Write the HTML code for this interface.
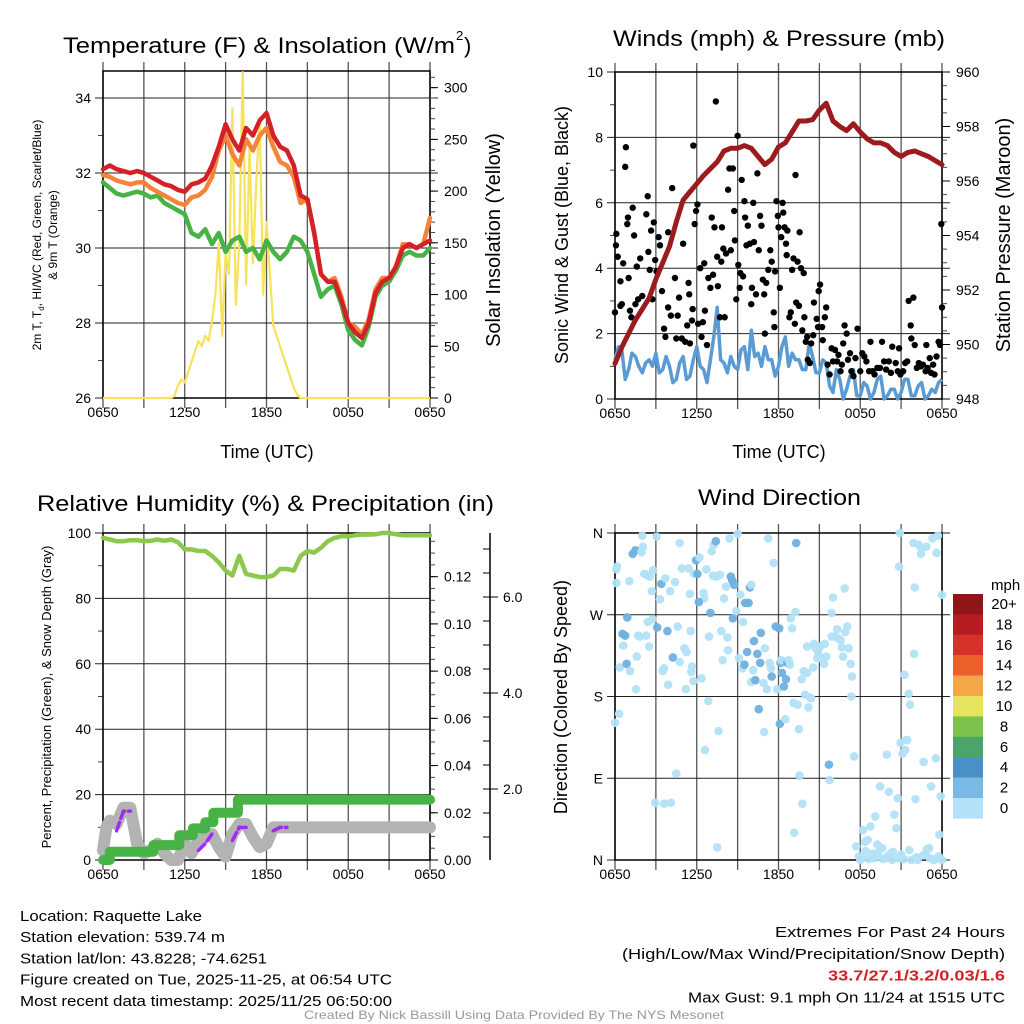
<!DOCTYPE html>
<html><head><meta charset="utf-8"><style>
html,body{margin:0;padding:0;background:#fff;}
svg{display:block;font-family:"Liberation Sans",Arial,sans-serif;}
</style></head><body>
<svg id="fig" width="1024" height="1024" viewBox="0 0 1024 1024"></svg>
<script>
// ---------------- DATA ----------------
const timeLabels = ["0650","1250","1850","0050","0650"];
// half-hourly temperatures (F), 0650 -> 0650
const tempRed = [32.1,32.2,32.1,32.05,32.0,32.05,32.0,31.9,31.8,31.7,31.65,31.55,31.5,31.7,31.75,31.85,32.2,32.7,33.3,32.9,32.6,33.2,33.0,33.4,33.6,33.0,32.7,32.6,32.2,31.4,31.3,30.4,29.3,29.1,29.1,28.6,28.0,27.75,27.6,28.0,28.8,29.1,29.2,29.5,30.0,30.1,30.0,30.1,30.2];
const tempOrange = [31.95,31.9,31.8,31.75,31.7,31.75,31.75,31.6,31.5,31.4,31.3,31.2,31.15,31.35,31.4,31.55,31.9,32.6,33.0,32.5,32.2,32.9,32.6,33.0,33.2,32.7,32.3,32.2,31.9,31.2,31.3,30.4,29.3,29.1,29.2,28.7,28.0,27.9,27.7,28.1,28.9,29.2,29.2,29.5,30.1,30.1,30.0,30.1,30.8];
const tempGreen = [31.75,31.6,31.45,31.4,31.45,31.5,31.45,31.35,31.4,31.2,31.1,31.0,30.9,30.4,30.3,30.5,30.1,30.4,29.9,30.2,30.3,29.9,30.0,29.7,30.2,29.9,29.7,29.9,30.3,30.2,29.9,29.3,28.7,28.9,29.0,28.5,27.8,27.55,27.4,27.9,28.7,29.0,29.1,29.4,29.8,29.9,29.8,29.8,30.0];
// quarter-hourly solar from hour 5 to hour 15 (W/m2)
const solarStartHour = 5;
const solarVals = [0,2,12,18,15,25,35,45,55,50,60,55,75,100,150,60,140,120,280,90,150,315,110,240,130,210,270,100,170,120,70,60,50,40,30,20,10,3,0,0,0];
// pressure half-hourly (mb)
const pressure = [949.3,949.9,950.4,950.9,951.3,951.7,952.4,953.0,953.6,954.5,955.3,955.6,955.9,956.2,956.45,956.7,957.1,957.2,957.2,957.3,957.2,956.9,956.6,956.8,957.25,957.4,957.8,958.2,958.2,958.25,958.6,958.85,958.2,958.0,957.85,958.1,957.8,957.55,957.4,957.4,957.3,957.05,956.9,957.05,957.1,957.0,956.9,956.75,956.6];
// sonic wind quarter-hourly (mph)
const sonicWind = [1.2,1.6,1.5,0.6,0.9,1.4,1.3,1.0,0.8,1.1,1.2,1.0,1.4,0.8,0.9,1.3,1.0,0.5,0.6,1.1,1.3,0.6,0.7,1.2,1.6,1.0,0.9,0.5,1.2,1.9,2.8,1.2,1.1,0.8,1.3,1.0,0.9,1.5,1.6,0.9,2.1,1.3,1.4,1.0,1.6,1.2,1.2,0.7,1.0,1.6,1.9,1.0,1.4,1.2,1.2,0.9,0.9,1.7,1.3,0.8,0.8,1.2,1.1,0.4,0.2,0.9,0.6,0.0,0.3,0.7,0.9,0.1,0.1,0.5,0.4,0.0,0.2,0.6,0.7,0.0,0.1,0.3,0.3,0.0,0.2,0.6,0.6,0.1,0.1,0.4,0.5,0.0,0.1,0.3,0.2,0.5,0.6];
// gusts: hours since 0650, mph
const gustHours = [0,0.07,0.1,0.2,0.4,0.4,0.5,0.6,0.75,0.8,0.9,0.95,1.0,1.1,1.2,1.3,1.4,1.5,1.6,1.7,1.85,2.0,2.3,2.4,2.45,2.55,2.65,2.75,2.85,2.95,3.05,3.2,3.3,3.45,3.6,3.7,3.9,3.9,4.1,4.2,4.4,4.5,4.6,4.7,4.9,5.0,5.15,5.3,5.4,5.45,5.5,5.65,5.7,5.75,5.85,5.95,6.05,6.1,6.25,6.35,6.45,6.55,6.6,6.75,6.85,7.0,7.1,7.2,7.3,7.4,7.5,7.55,7.7,7.8,7.85,7.95,8.05,8.15,8.3,8.4,8.5,8.65,8.75,8.8,8.9,9.0,9.05,9.15,9.2,9.3,9.4,9.5,9.55,9.65,9.75,9.9,10.0,10.05,10.15,10.2,10.35,10.45,10.55,10.65,10.75,10.85,10.95,11.0,11.1,11.25,11.4,11.5,11.65,11.7,11.75,11.85,11.95,12.0,12.1,12.2,12.3,12.35,12.45,12.55,12.6,12.65,12.8,12.9,13.0,13.1,13.2,13.25,13.3,13.4,13.5,13.55,13.65,13.75,13.85,13.9,14.0,14.1,14.15,14.3,14.4,14.55,14.6,14.8,14.9,14.95,15.05,15.2,15.25,15.4,15.5,15.6,15.75,15.9,16.0,16.15,16.3,16.4,16.55,16.65,16.75,16.85,17.0,17.1,17.25,17.35,17.5,17.65,17.8,18.0,18.15,18.3,18.45,18.65,18.75,18.9,19.05,19.25,19.45,19.6,19.75,19.9,20.1,20.25,20.35,20.6,20.75,20.85,20.95,21.15,21.3,21.45,21.55,21.7,21.75,21.9,22.0,22.15,22.3,22.45,22.6,22.8,22.85,22.95,23.1,23.2,23.35,23.45,23.6,23.75,23.85,23.95,24.0];
const gustVals = [2.65,4.7,5.05,4.35,3.6,2.85,2.9,4.15,7.1,7.7,5.35,5.55,3.7,2.7,2.5,5.85,5.0,2.9,4.05,3.05,4.3,3.15,5.65,6.2,4.5,3.95,5.15,3.05,5.4,4.25,3.9,4.95,4.7,3.3,2.15,1.9,5.1,2.8,2.55,6.45,3.7,1.85,2.55,3.1,1.85,4.75,1.75,2.25,3.55,3.2,1.7,2.4,2.75,7.75,5.35,5.75,5.95,2.3,4.0,1.9,2.35,4.15,2.7,1.65,3.7,3.4,5.55,3.8,5.25,9.1,4.35,3.45,2.5,4.2,5.25,4.6,2.5,4.45,6.4,7.05,4.55,7.05,5.75,4.85,3.05,8.05,4.1,3.4,3.85,6.7,3.75,6.05,5.55,4.7,5.3,4.75,2.9,3.4,6.0,4.8,3.2,6.9,4.55,5.6,5.3,3.65,3.2,2.0,3.55,3.95,4.55,4.2,2.65,2.2,3.9,6.05,5.6,5.25,3.4,4.95,6.0,5.7,5.25,4.75,4.4,5.15,2.5,2.65,3.95,4.3,2.3,6.85,2.95,4.2,2.85,5.1,4.0,2.1,3.85,2.5,1.75,1.9,1.2,1.1,1.7,1.95,2.95,2.45,2.2,3.3,3.5,2.2,1.8,2.5,2.8,1.05,0.75,1.55,1.15,1.5,1.15,1.35,0.85,1.05,1.7,2.25,2.0,1.2,1.4,0.85,0.7,1.25,2.15,0.85,1.4,1.3,1.15,0.85,1.75,0.85,0.75,0.95,0.95,1.75,1.15,0.9,1.15,0.8,1.6,1.1,0.85,1.55,0.75,0.85,1.1,1.15,3.0,2.25,1.85,3.1,1.65,0.95,1.1,1.0,1.05,0.85,1.65,0.95,1.25,0.8,1.05,0.75,1.3,1.75,1.65,5.35,2.8];
// relative humidity half-hourly (%)
const rh = [98.5,98,97.5,97.5,97.8,97.8,97.5,97.6,98,97.6,98,97.2,95,95,94.5,94.5,93,91,88.5,87,93,87.5,87,86.5,86.5,87,89,89,88.5,93,94.5,94,95.5,97.5,98.5,99,99,99.3,99.5,99.5,99.6,100,100,99.6,99.3,99.3,99.3,99.3,99.3];
// accumulated precipitation steps (hour, inches)
const precipHours = [0,0.5,3.7,5.6,6.6,7.5,8.1,9.9];
const precipVals = [0,0.0035,0.0063,0.0105,0.0134,0.016,0.02,0.0256];
// snow depth (in)
const snowHours = [0,0.25,0.5,1,1.5,2,2.5,3,3.5,4,4.5,5,5.5,6,6.5,7,8,8.5,9,9.5,10,10.5,11,11.5,12,12.5,13,24];
const snowVals = [0.72,1.2,1.34,1.27,1.61,1.61,0.86,0.66,0.72,0.86,0.66,0.52,0.52,0.86,0.66,0.93,1.06,0.79,0.59,1.06,1.27,1.27,1.0,0.79,0.86,1.2,1.2,1.2];
const snowRawHours = [1.0,1.5,2.0,null,7.0,7.5,8.0,null,9.5,10.0,10.5,null,12.5,13.0,13.5];
const snowRawVals = [1.13,1.54,1.54,null,0.72,0.86,1.06,null,0.93,1.2,1.2,null,1.13,1.2,1.2];
// wind direction (hour, degrees, speed mph)
const dirHours = [0.1,0.15,0.1,0,0.3,0.35,0.6,0.75,0.55,0.9,0.85,1.05,1.1,1.3,1.5,1.6,1.55,1.7,1.85,1.95,2.05,2.0,2.15,2.3,2.55,2.3,2.5,2.4,2.7,2.8,2.75,3.05,2.95,3.1,3.3,3.4,3.5,3.6,3.7,3.9,3.85,4.05,4.1,3.6,4.25,4.4,4.5,4.6,4.75,4.75,4.9,5.1,5.2,5.25,5.4,5.5,5.6,5.75,5.55,5.65,5.8,5.95,6.05,6.2,6.35,6.5,6.55,6.7,6.15,6.85,6.6,6.9,7.0,7.1,7.25,7.4,7.2,7.45,7.7,7.8,7.9,8.0,8.15,7.6,7.5,8.25,8.3,8.4,8.5,8.6,8.65,8.75,8.9,9.0,9.1,9.2,9.35,9.4,9.5,9.55,9.7,9.8,9.9,10.0,10.0,10.15,10.2,10.3,10.45,10.55,10.65,10.7,10.9,10.95,11.0,11.15,11.25,11.35,11.45,11.5,11.65,11.8,11.9,12.05,12.1,12.15,12.2,12.25,12.4,12.5,12.55,12.65,12.75,12.85,12.9,13.0,13.1,13.15,13.25,13.3,13.4,13.5,13.55,13.7,13.75,13.85,13.95,14.1,14.2,14.3,14.1,14.4,14.55,14.6,14.7,14.85,14.9,15.05,15.15,15.35,15.4,15.5,15.7,15.75,15.9,15.9,16.0,16.15,16.3,16.4,16.55,16.65,16.75,16.85,16.9,17.05,17.15,17.3,17.4,17.35,17.55,17.7,18.0,18.2,18.35,18.55,18.75,18.95,19.1,19.25,19.35,19.45,19.6,19.85,19.95,20.1,20.2,20.35,20.5,20.65,20.75,20.85,20.9,20.95,21.1,21.25,21.3,21.35,21.45,21.55,21.65,21.75,21.9,21.95,22.0,22.05,22.2,22.3,22.45,22.5,22.65,22.8,22.85,23.05,23.2,23.3,23.4,23.55,23.6,23.7,23.75,23.9,24.0,24.0,18.1,18.4,18.6,18.9,19.0,19.3,19.7,20.0,20.4,20.8,21.0,21.2,21.6,22.1,22.6,22.9,23.1,23.5,23.8,17.9,19.55];
const dirVals = [320,323,305,151,161,212,236,247,249,267,216,307,208,337,341,224,188,247,246,339,345,357,315,314,312,247,235,262,296,319,265,356,63,256,287,304,208,211,310,193,252,296,63,62,223,306,95,257,349,218,321,233,188,229,321,293,207,197,252,213,315,330,315,333,200,294,288,320,284,175,121,246,272,340,347,351,313,312,314,252,220,288,301,142,14,245,231,354,312,308,266,303,274,359,222,292,211,262,215,283,229,283,300,303,196,209,241,198,227,166,217,250,195,141,233,188,354,217,211,202,327,257,188,255,150,217,220,206,191,155,199,217,220,215,266,255,173,30,273,349,171,144,93,199,62,208,182,206,168,179,235,178,212,238,234,222,229,235,222,216,238,224,105,88,246,272,289,246,254,244,242,234,224,299,251,257,233,216,202,180,114,15,0,33,20,22,37,7,48,17,4,81,13,2,116,75,7,0,50,35,68,323,360,129,117,204,121,132,132,183,171,0,349,227,300,67,0,347,337,343,108,7,345,13,81,354,0,112,338,357,4,70,292,0,3,10,1,5,2,8,1,4,9,2,6,1,11,3,5,12,2,1,28,4];
const dirSpeeds = [0,0,0,0,0,0,0,2,2,2,2,0,0,2,2,0,0,0,0,0,0,0,0,0,0,0,0,0,0,0,0,0,0,2,0,2,0,0,0,0,2,0,0,0,2,0,0,0,0,0,0,0,0,0,0,0,0,0,0,0,0,2,2,0,0,0,0,0,2,0,0,0,2,0,0,2,0,0,0,0,0,0,0,0,0,0,0,0,2,2,2,2,0,0,0,0,0,0,2,2,2,2,2,0,0,0,2,2,2,2,2,2,0,0,0,0,0,0,0,2,0,2,0,2,2,2,0,2,2,0,2,2,0,0,0,0,0,0,0,2,0,0,0,0,0,0,0,0,0,0,0,0,0,0,0,0,0,0,0,0,0,0,2,0,0,0,0,0,0,0,0,0,0,0,0,0,0,0,0,0,0,0,0,0,0,0,0,0,0,0,0,0,0,0,0,0,0,0,0,0,0,0,0,0,0,0,0,0,0,0,0,0,0,0,0,0,0,0,0,0,0,0,0,0,0,0,0,0,0,0,0,0,0,0,0,0,0,0,0,0,0,0,0,0,0,0,0,0,0,0,0,0,0,0,0,0,0,0,0,0,0,0,0,0,0,0,0,0,0,0,0];
const legendLabels = ["20+","18","16","14","12","10","8","6","4","2","0"];
const legendColors = ["#8e1518","#b81c23","#d8302a","#ec5f2b","#f5a748","#e6e35c","#7dc24c","#4ba46a","#4a8fc6","#7ab9e3","#b3e1f7"];

// ---------------- HELPERS ----------------
const NS="http://www.w3.org/2000/svg";
const svg=document.getElementById('fig');
function mk(tag,attrs,parent){const e=document.createElementNS(NS,tag);for(const k in attrs)e.setAttribute(k,attrs[k]);(parent||svg).appendChild(e);return e;}
function txt(s,x,y,size,attrs,parent){const e=mk('text',Object.assign({x:x,y:y,'font-size':size,fill:'#000'},attrs||{}),parent);e.textContent=s;return e;}
function scaleX(P,h){return P.x0+h/24*(P.x1-P.x0);}
function scaleY(P,v,lo,hi){return P.y1-(v-lo)/(hi-lo)*(P.y1-P.y0);}
function series(vals){return vals.map((v,i)=>[i*24/(vals.length-1),v]);}
function pathD(pts){let d='',pen=false;pts.forEach(p=>{if(p[0]===null||p[1]===null){pen=false;return;}d+=(pen?'L':'M')+p[0].toFixed(1)+' '+p[1].toFixed(1);pen=true;});return d;}

function panelFrame(P,name,leftTicks,leftLo,leftHi,leftMinor,leftLabels){
  const g=mk('g',{});
  
  
  for(let h=0;h<=24;h+=3){const x=scaleX(P,h);mk('line',{x1:x,x2:x,y1:P.y0-9,y2:P.y1+10,stroke:'#555','stroke-width':1.3},g);}
  leftTicks.forEach((v,i)=>{const y=scaleY(P,v,leftLo,leftHi);
    mk('line',{x1:P.x0-8,x2:P.x1+(P.gridExt||0),y1:y,y2:y,stroke:'#222','stroke-width':1},g);
    txt(leftLabels[i],P.x0-12,y+5,14,{'text-anchor':'end'},g);});
  leftMinor.forEach(v=>{const y=scaleY(P,v,leftLo,leftHi);mk('line',{x1:P.x0-5,x2:P.x0,y1:y,y2:y,stroke:'#444','stroke-width':1},g);});
  mk('rect',{x:P.x0,y:P.y0,width:P.x1-P.x0,height:P.y1-P.y0,fill:'none',stroke:'#000','stroke-width':1.5},g);
  timeLabels.forEach((t,i)=>{txt(t,scaleX(P,i*6),P.y1+19,14,{'text-anchor':'middle'},g);});
  return g;
}
function rightAxis(P,lo,hi,majors,labels,minorStep,name){
  const g=mk('g',{});
  
  
  for(let v=lo;v<=hi+1e-9;v+=minorStep){const y=scaleY(P,v,P.rlo,P.rhi);if(y<P.y0-0.5)continue;mk('line',{x1:P.x1,x2:P.x1+5,y1:y,y2:y,stroke:'#444','stroke-width':1},g);}
  majors.forEach((v,i)=>{const y=scaleY(P,v,P.rlo,P.rhi);mk('line',{x1:P.x1,x2:P.x1+8,y1:y,y2:y,stroke:'#000','stroke-width':1},g);txt(labels[i],P.x1+14,y+5,14,{},g);});
}

// ---------------- PANEL 1 : Temperature ----------------
const P1={x0:103,x1:430,y0:71,y1:398,rlo:0,rhi:316.1,gridExt:8};
const t1=txt('Temperature (F) & Insolation (W/m',63,53,22,{textLength:392,lengthAdjust:'spacingAndGlyphs'});

txt('2',456,40,13,{});
txt(')',464,53,22,{});
panelFrame(P1,'temperature',[26,28,30,32,34],26,34.72,[27,29,31,33],["26","28","30","32","34"]);
rightAxis(P1,0,316,[0,50,100,150,200,250,300],["0","50","100","150","200","250","300"],10,'solar-axis');
(function(){
  const solarPts=[[scaleX(P1,0),scaleY(P1,0,0,316.1)]];
  solarVals.forEach((v,i)=>solarPts.push([scaleX(P1,solarStartHour+i*0.25),scaleY(P1,v,0,316.1)]));
  solarPts.push([scaleX(P1,24),scaleY(P1,0,0,316.1)]);
  const s=mk('path',{d:pathD(solarPts),fill:'none',stroke:'#f7e35a','stroke-width':2.2,'stroke-linejoin':'round'});
  
  [[tempGreen,'#47b346','dewpoint-line'],[tempOrange,'#f5843a','9m-temperature-line'],[tempRed,'#d42027','2m-temperature-line']].forEach(([arr,c,n])=>{
    const pts=series(arr).map(p=>[scaleX(P1,p[0]),scaleY(P1,p[1],26,34.72)]);
    const e=mk('path',{d:pathD(pts),fill:'none',stroke:c,'stroke-width':4.5,'stroke-linejoin':'round','stroke-linecap':'round'});
    
  });
})();
const yl1=mk('text',{transform:'rotate(-90 41 235)',x:41,y:235,'font-size':12,'text-anchor':'middle'});
yl1.innerHTML='2m T, T<tspan font-size="8" dy="3">d</tspan><tspan dy="-3">, HI/WC (Red, Green, Scarlet/Blue)</tspan>';

const yl1b=txt('& 9m T (Orange)',57,235,12,{transform:'rotate(-90 57 235)','text-anchor':'middle'});

const yr1=txt('Solar Insolation (Yellow)',500,240,20,{transform:'rotate(-90 500 240)','text-anchor':'middle'});

const xl1=txt('Time (UTC)',267,458,18,{'text-anchor':'middle'});


// ---------------- PANEL 2 : Winds ----------------
const P2={x0:615,x1:942,y0:72,y1:399,rlo:948,rhi:960,gridExt:8};
const t2=txt('Winds (mph) & Pressure (mb)',613,46,22,{textLength:332,lengthAdjust:'spacingAndGlyphs'});

panelFrame(P2,'winds',[0,2,4,6,8,10],0,10,[1,3,5,7,9],["0","2","4","6","8","10"]);
rightAxis(P2,948,960,[948,950,952,954,956,958,960],["948","950","952","954","956","958","960"],0.5,'pressure-axis');
(function(){
  const wpts=series(sonicWind).map(p=>[scaleX(P2,p[0]),scaleY(P2,p[1],0,10)]);
  const w=mk('path',{d:pathD(wpts),fill:'none',stroke:'#5a9bd4','stroke-width':3.5,'stroke-linejoin':'round'});
  
  const n=Math.min(gustHours.length,gustVals.length);
  for(let i=0;i<n;i++){const c=mk('circle',{cx:scaleX(P2,gustHours[i]),cy:scaleY(P2,gustVals[i],0,10),r:3.2,fill:'#000'});
    
    }
  const ppts=series(pressure).map(p=>[scaleX(P2,p[0]),scaleY(P2,p[1],948,960)]);
  const pr=mk('path',{d:pathD(ppts),fill:'none',stroke:'#9b1b1e','stroke-width':5,'stroke-linejoin':'round','stroke-linecap':'round'});
  
})();
const yl2=txt('Sonic Wind & Gust (Blue, Black)',568,235,18,{transform:'rotate(-90 568 235)','text-anchor':'middle'});

const yr2=txt('Station Pressure (Maroon)',1010,235,20,{transform:'rotate(-90 1010 235)','text-anchor':'middle'});

const xl2=txt('Time (UTC)',779,458,18,{'text-anchor':'middle'});


// ---------------- PANEL 3 : RH & precip ----------------
const P3={x0:103,x1:430,y0:533,y1:860,rlo:0,rhi:0.1385,gridExt:0};
const t3=txt('Relative Humidity (%) & Precipitation (in)',37,511,22,{textLength:457,lengthAdjust:'spacingAndGlyphs'});

panelFrame(P3,'humidity',[0,20,40,60,80,100],0,100,[10,30,50,70,90],["0","20","40","60","80","100"]);
rightAxis(P3,0,0.1385,[0,0.02,0.04,0.06,0.08,0.1,0.12],["0.00","0.02","0.04","0.06","0.08","0.10","0.12"],0.005,'precipitation-axis');
(function(){
  const g=mk('g',{});
  
  
  mk('line',{x1:490,x2:490,y1:533,y2:860,stroke:'#000','stroke-width':1.5},g);
  const sy=v=>885-48*v;
  for(let v=0.5;v<=7;v+=0.5){const y=sy(v);if(y<533||y>860)continue;mk('line',{x1:483,x2:490,y1:y,y2:y,stroke:'#000','stroke-width':1},g);}
  [["2.0",2],["4.0",4],["6.0",6]].forEach(([l,v])=>{const y=sy(v);mk('line',{x1:490,x2:498,y1:y,y2:y,stroke:'#000','stroke-width':1},g);txt(l,503,y+5,14,{},g);});
  const sp=snowHours.map((h,i)=>[scaleX(P3,h),sy(snowVals[i])]);
  const s=mk('path',{d:pathD(sp),fill:'none',stroke:'#b3b3b3','stroke-width':12,'stroke-linejoin':'round','stroke-linecap':'round'});
  
  const rp=snowRawHours.map((h,i)=>h===null?[null,null]:[scaleX(P3,h),sy(snowRawVals[i])]);
  const r=mk('path',{d:pathD(rp),fill:'none',stroke:'#a02cf0','stroke-width':3.5,'stroke-dasharray':'9 4','stroke-linecap':'round'});
  
  const pp=[];
  precipHours.forEach((h,i)=>{const y=scaleY(P3,precipVals[i],0,0.1385);const hEnd=i<precipHours.length-1?precipHours[i+1]:24;pp.push([scaleX(P3,h),y]);pp.push([scaleX(P3,hEnd),y]);});
  const p=mk('path',{d:pathD(pp),fill:'none',stroke:'#47b346','stroke-width':10,'stroke-linejoin':'round','stroke-linecap':'round'});
  
  const hp=series(rh).map(q=>[scaleX(P3,q[0]),scaleY(P3,q[1],0,100)]);
  const h=mk('path',{d:pathD(hp),fill:'none',stroke:'#8cc84b','stroke-width':4.5,'stroke-linejoin':'round','stroke-linecap':'round'});
  
})();
const yl3=txt('Percent, Precipitation (Green), & Snow Depth (Gray)',51,697,13,{transform:'rotate(-90 51 697)','text-anchor':'middle'});


// ---------------- PANEL 4 : Wind direction ----------------
const P4={x0:615,x1:942,y0:533,y1:860,gridExt:8};
const t4=txt('Wind Direction',698,505,22,{textLength:163,lengthAdjust:'spacingAndGlyphs'});

panelFrame(P4,'wind-direction',[0,90,180,270,360],0,360,[],["N","E","S","W","N"]);
(function(){
  const col=s=>s>=4?'#4a8fc6':(s>=2?'#6fb0e0':'#b3e1f7');
  const n=Math.min(dirHours.length,dirVals.length,dirSpeeds.length);
  for(let i=0;i<n;i++){const c=mk('circle',{cx:scaleX(P4,dirHours[i]),cy:scaleY(P4,dirVals[i],0,360),r:4.3,fill:col(dirSpeeds[i]),'fill-opacity':0.95});
    
    }
  const g=mk('g',{});
  
  
  txt('mph',991,590,15,{},g);
  legendColors.forEach((c,i)=>{mk('rect',{x:953,y:594+i*20.4,width:30,height:20.6,fill:c},g);
    txt(legendLabels[i],1004,609+i*20.4,15,{'text-anchor':'middle'},g);});
})();
const yl4=txt('Direction (Colored By Speed)',567,697,18,{transform:'rotate(-90 567 697)','text-anchor':'middle'});


// ---------------- FOOTER ----------------
const info=[["Location: Raquette Lake",182],["Station elevation: 539.74 m",205],["Station lat/lon: 43.8228; -74.6251",247],["Figure created on Tue, 2025-11-25, at 06:54 UTC",372],["Most recent data timestamp: 2025/11/25 06:50:00",372]];
info.forEach(([s,w],i)=>{const e=txt(s,20,921+i*21.2,15,{textLength:w,lengthAdjust:'spacingAndGlyphs'});
  
  });
const ext=[["Extremes For Past 24 Hours",230,'#000','normal'],["(High/Low/Max Wind/Precipitation/Snow Depth)",383,'#000','normal'],["33.7/27.1/3.2/0.03/1.6",177,'#d42027','bold'],["Max Gust: 9.1 mph On 11/24 at 1515 UTC",317,'#000','normal']];
ext.forEach(([s,w,c,fw],i)=>{const e=txt(s,1005-w,937+i*21.8,15,{fill:c,'font-weight':fw,textLength:w,lengthAdjust:'spacingAndGlyphs'});
  
  });
const cr=txt('Created By Nick Bassill Using Data Provided By The NYS Mesonet',304,1019,12,{fill:'#999',textLength:420,lengthAdjust:'spacingAndGlyphs'});

</script>
</body></html>
